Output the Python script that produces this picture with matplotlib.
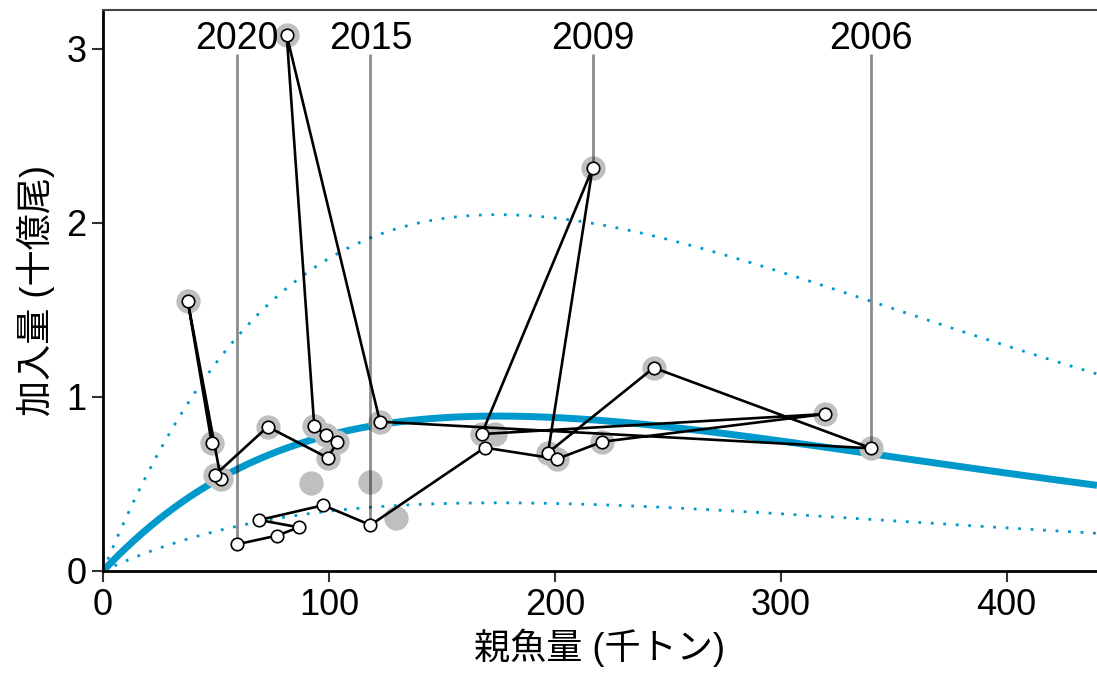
import numpy as np
import matplotlib
matplotlib.use("Agg")
import matplotlib.pyplot as plt

plt.rcParams['font.family'] = ['Liberation Sans', 'Noto Sans CJK JP', 'DejaVu Sans']

# current assessment, 1995-2020 (spawning stock in kt, recruits in billions)
years = list(range(1995, 2021))
ssb = [48.1, 37.5, 52.2, 49.6, 72.9, 99.4, 103.8, 98.5, 93.5, 81.3,
       122.6, 340.1, 243.8, 197.0, 216.7, 167.6, 319.5, 221.1, 201.0, 169.0,
       118.4, 97.5, 69.2, 86.7, 76.9, 59.2]
rec = [0.737, 1.552, 0.529, 0.552, 0.829, 0.651, 0.740, 0.782, 0.835, 3.080,
       0.858, 0.705, 1.168, 0.680, 2.314, 0.787, 0.902, 0.743, 0.644, 0.709,
       0.264, 0.378, 0.293, 0.251, 0.203, 0.153]

# previous assessment, 1995-2017
prev_ssb = [48.1, 37.5, 52.2, 49.6, 72.9, 99.4, 103.8, 98.5, 93.5, 81.3,
            122.6, 340.1, 243.8, 197.0, 216.7, 167.6, 319.5, 221.1, 201.0, 173.5,
            129.6, 118.4, 91.9]
prev_rec = [0.737, 1.552, 0.529, 0.552, 0.829, 0.651, 0.740, 0.782, 0.835, 3.080,
            0.858, 0.705, 1.168, 0.680, 2.314, 0.787, 0.902, 0.743, 0.644, 0.787,
            0.303, 0.513, 0.504]

# Ricker fit R = a*S*exp(-b*S) and the dotted band factors
ricker_a = 0.01383
ricker_b = 1 / 175.0
band_hi = 2.30
band_lo = 0.44

label_years = [2020, 2015, 2009, 2006]

blue = '#0099cc'

fig = plt.figure(figsize=(10.97, 6.73), dpi=100)
ax = fig.add_axes([103 / 1097, 102 / 673, 994 / 1097, 561 / 673])

s = np.linspace(0, 440, 500)
r = ricker_a * s * np.exp(-ricker_b * s)
ax.plot(s, r, color=blue, lw=5, zorder=2, solid_capstyle='butt')
ax.plot(s, r * band_hi, color=blue, lw=2, ls=(0, (1, 3.5)), zorder=2)
ax.plot(s, r * band_lo, color=blue, lw=2, ls=(0, (1, 3.5)), zorder=2)

ax.scatter(prev_ssb, prev_rec, s=17.5 ** 2, color='#bfbfbf', lw=0, zorder=3)

for yr in label_years:
    i = years.index(yr)
    ax.plot([ssb[i], ssb[i]], [2.97, rec[i]], color='black', alpha=0.45,
            lw=2, zorder=4, solid_capstyle='butt')
    ax.text(ssb[i], 3.0, str(yr), ha='center', va='baseline', fontsize=27,
            zorder=4)

ax.plot(ssb, rec, color='black', lw=1.9, zorder=5)
ax.scatter(ssb, rec, s=9 ** 2, facecolor='white', edgecolor='black',
           lw=1.2, zorder=6)

ax.set_xlim(0, 440)
ax.set_ylim(0, 3.224)
ax.set_xticks([0, 100, 200, 300, 400])
ax.set_yticks([0, 1, 2, 3])
ax.tick_params(labelsize=26, length=8, width=1.5, color='#333333', pad=4)
for side in ['left', 'bottom']:
    ax.spines[side].set_linewidth(2)
ax.spines['top'].set_linewidth(1.5)
ax.spines['top'].set_color('#444444')
ax.spines['right'].set_visible(False)

ax.set_xlabel('親魚量 (千トン)', fontsize=26, labelpad=4)
ax.set_ylabel('加入量 (十億尾)', fontsize=26, labelpad=8)

fig.savefig('out.png', dpi=100)
